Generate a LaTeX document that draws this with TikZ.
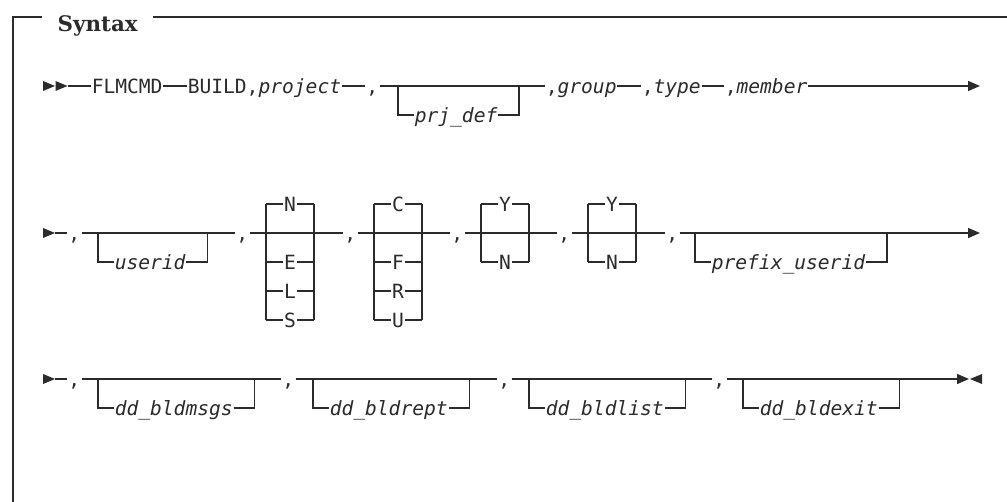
\documentclass[tikz,border=0pt]{standalone}
\usepackage{fontspec}
\newfontfamily\railfont{DejaVu Sans Mono}
\newfontfamily\titlefont{DejaVu Serif}
\usetikzlibrary{arrows.meta,positioning}
\definecolor{ink}{HTML}{2B2B2B}

\begin{document}
\begin{tikzpicture}[x=0.5pt, y=-0.5pt, line width=0.75pt, color=ink,
  every node/.style={inner sep=0pt},
  kw/.style={font=\railfont\fontsize{9.8}{10}\selectfont, text height=7.2pt, text depth=0pt, anchor=west},
  var/.style={kw, font=\railfont\fontsize{9.8}{10}\selectfont\itshape},
  sepc/.style={kw, minimum width=6.5pt},
  opt/.style={kw, anchor=center},
  endarrow/.style={-{Triangle[length=6pt,width=5pt]}}]
\useasboundingbox (0,0) rectangle (1007,502);
% frame with title
\node[font=\titlefont\bfseries\fontsize{10.7}{12}\selectfont, anchor=base west] (title) at (57,32) {Syntax};
\coordinate (ftop) at (13,17);
\coordinate (fbot) at (13,502);
\coordinate (fright) at (1007,17);
\draw[shorten >=7.5pt] (fbot) -- (ftop) -- (ftop -| title.west);
\draw[shorten <=7.5pt] (ftop -| title.east) -- (fright);

% row 1
\coordinate (r1) at (43,86);
\coordinate (r1s) at (68,86);
\fill (r1) ++(0,-5) -- ++(12,5) -- ++(-12,5) -- cycle;
\fill (r1) ++(12.5,-5) -- ++(12,5) -- ++(-12,5) -- cycle;
\node[kw] (flmcmd) at (91,86) {FLMCMD};
\node[kw] (build) at (187,86) {BUILD,\textit{project}};
\node[sepc] (c1) at (365,86) {,};
\node[var] (prjdef) at (414,115) {prj\_def};
\node[kw] (group) at (545,86) {,\textit{group}};
\node[kw] (type) at (641,86) {,\textit{type}};
\node[kw] (member) at (724,86) {,\textit{member}};
\coordinate (e1) at (980,86);
\draw (r1s) -- (flmcmd);
\draw (flmcmd) -- (build);
\draw (build) -- (c1);
\draw (c1) -- (group);
\draw (group) -- (type);
\draw (type) -- (member);
\draw[endarrow] (member) -- (e1);

% row 2
\coordinate (r2) at (43,233);
\coordinate (r2s) at (55,233);
\fill (r2) ++(0,-5) -- ++(12,5) -- ++(-12,5) -- cycle;
\node[sepc] (c2) at (67,233) {,};
\node[var] (userid) at (114,262) {userid};
\node[sepc] (c3) at (235,233) {,};
\node[opt] (sn) at (290,204) {N};
\node[opt] (se) at (290,262) {E};
\node[opt] (sl) at (290,291) {L};
\node[opt] (ss) at (290,320) {S};
\node[sepc] (c4) at (343,233) {,};
\node[opt] (fc) at (398,204) {C};
\node[opt] (ff) at (398,262) {F};
\node[opt] (fr) at (398,291) {R};
\node[opt] (fu) at (398,320) {U};
\node[sepc] (c5) at (450,233) {,};
\node[opt] (ay) at (505,204) {Y};
\node[opt] (an) at (505,262) {N};
\node[sepc] (c6) at (557,233) {,};
\node[opt] (by) at (612,204) {Y};
\node[opt] (bn) at (612,262) {N};
\node[sepc] (c7) at (665,233) {,};
\node[var] (prefix) at (711,262) {prefix\_userid};
\coordinate (e2) at (980,233);
\draw (r2s) -- (c2);
\draw (c2) -- (c3);
\draw (c3) -- (c4);
\draw (c4) -- (c5);
\draw (c5) -- (c6);
\draw (c6) -- (c7);
\draw[endarrow] (c7) -- (e2);

% row 3
\coordinate (r3) at (43,379);
\coordinate (r3s) at (55,379);
\fill (r3) ++(0,-5) -- ++(12,5) -- ++(-12,5) -- cycle;
\node[sepc] (c8) at (67,379) {,};
\node[var] (bldmsgs) at (114,408) {dd\_bldmsgs};
\node[sepc] (c9) at (281,379) {,};
\node[var] (bldrept) at (329,408) {dd\_bldrept};
\node[sepc] (c10) at (497,379) {,};
\node[var] (bldlist) at (545,408) {dd\_bldlist};
\node[sepc] (c11) at (712,379) {,};
\node[var] (bldexit) at (759,408) {dd\_bldexit};
\coordinate (e3) at (969,379);
\draw (r3s) -- (c8);
\draw (c8) -- (c9);
\draw (c9) -- (c10);
\draw (c10) -- (c11);
\draw[endarrow] (c11) -- (e3);
\fill (e3) ++(1,0) -- ++(12,-5) -- ++(0,10) -- cycle;

% optional items below the rail
\foreach \v in {prjdef,userid,prefix,bldmsgs,bldrept,bldlist,bldexit}{
  \draw (\v.west) -- ++(-8pt,0) -- ++(0,-29);
  \draw (\v.east) -- ++(10.5pt,0) -- ++(0,-29);
}
% choice stacks
\foreach \t/\b in {sn/ss,fc/fu,ay/an,by/bn}{
  \draw ([xshift=-12pt]\t.center) -- ([xshift=-12pt]\b.center);
  \draw ([xshift=12pt]\t.center) -- ([xshift=12pt]\b.center);
}
\foreach \l in {sn,se,sl,ss,fc,ff,fr,fu,ay,an,by,bn}{
  \draw ([xshift=-12pt]\l.center) -- (\l.west);
  \draw (\l.east) -- ([xshift=12pt]\l.center);
}
\end{tikzpicture}
\end{document}
